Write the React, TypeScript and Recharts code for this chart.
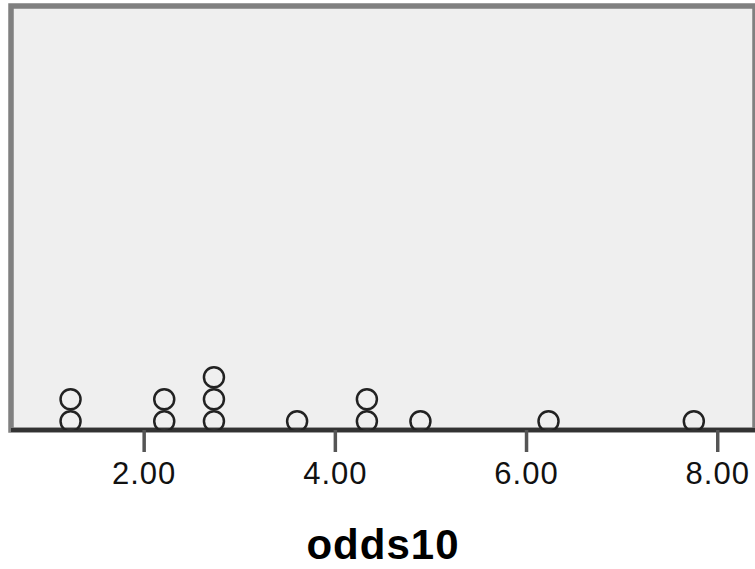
import React from 'react';
import {
  ScatterChart,
  Scatter,
  XAxis,
  YAxis,
  ReferenceArea
} from 'recharts';

// one entry per case
const odds10 = [1.23, 1.23, 2.21, 2.21, 2.73, 2.73, 2.73, 3.6, 4.33, 4.33, 4.89, 6.23, 7.75];
const xTicks = [2, 4, 6, 8];
const xDomain = [0.607, 8.39];
const yDomain = [0.6, 19.9];

// stack repeated values on top of each other
const seen: Record<string, number> = {};
const dots = odds10.map((v) => {
  const key = v.toFixed(2);
  seen[key] = (seen[key] || 0) + 1;
  return { x: v, y: seen[key] };
});

const font = '"Liberation Sans", Arial, sans-serif';

const Ring = (props: any) => (
  <circle cx={props.cx} cy={props.cy} r={10} fill="none" stroke="#222" strokeWidth={2.5} />
);

export default function App() {
  return (
    <div style={{ position: 'absolute', left: 0, top: 0, width: 755, height: 569, background: '#fff' }}>
      <ScatterChart
        width={755}
        height={569}
        margin={{ top: 6, right: 0, left: 11, bottom: 0 }}
      >
        <ReferenceArea
          x1={xDomain[0]}
          x2={xDomain[1]}
          y1={yDomain[0]}
          y2={yDomain[1]}
          fill="#efefef"
          fillOpacity={1}
          stroke="#808080"
          strokeWidth={5.5}
        />
        <XAxis
          type="number"
          dataKey="x"
          domain={xDomain}
          ticks={xTicks}
          allowDataOverflow
          height={139}
          tickFormatter={(v: number) => v.toFixed(2)}
          axisLine={{ stroke: '#333', strokeWidth: 4 }}
          tickLine={{ stroke: '#555', strokeWidth: 3.5 }}
          tickSize={22}
          tickMargin={10}
          tick={{ fill: '#111', fontSize: 31, fontFamily: font, letterSpacing: 1 }}
          label={{
            value: 'odds10',
            position: 'insideBottom',
            offset: 10,
            style: { fill: '#000', fontSize: 42, fontWeight: 'bold', fontFamily: font, letterSpacing: 1 }
          }}
        />
        <YAxis type="number" dataKey="y" domain={yDomain} allowDataOverflow hide />
        <Scatter data={dots} shape={<Ring />} isAnimationActive={false} />
      </ScatterChart>
    </div>
  );
}
